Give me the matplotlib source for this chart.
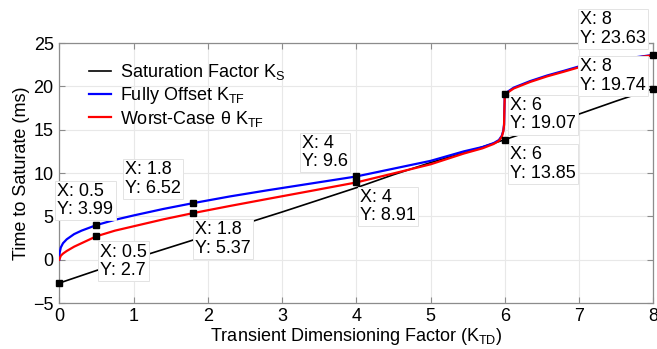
import matplotlib
matplotlib.use('Agg')
import matplotlib.pyplot as plt

plt.rcParams['font.family'] = ['Liberation Sans', 'DejaVu Sans']
plt.rcParams['mathtext.fontset'] = 'custom'
plt.rcParams['mathtext.rm'] = 'Liberation Sans'
plt.rcParams['mathtext.it'] = 'Liberation Sans:italic'

# saturation factor K_S (black)
ks_x = [0, 0.5, 1, 1.5, 2, 2.5, 3, 3.5, 4, 4.5, 5, 5.5, 6, 6.5, 7, 7.5, 8]
ks_y = [-2.7, -1.25, 0.1, 1.45, 2.8, 4.15, 5.5, 6.9, 8.3, 9.8, 11.2, 12.45, 13.85,
        15.3, 16.8, 18.3, 19.74]

# fully offset K_TF (blue)
fo_x = [0, 0.005, 0.02, 0.05, 0.1, 0.2, 0.3, 0.5, 0.75, 1.0, 1.4, 1.8, 2.3, 2.8,
        3.4, 4.0, 4.5, 5.0, 5.45, 5.7, 5.85, 5.92, 5.96, 5.98, 5.99, 5.995, 6.0,
        6.05, 6.12, 6.34, 6.57, 6.8, 7.0, 7.5, 8.0]
fo_y = [0, 0.8, 1.4, 1.9, 2.35, 2.95, 3.35, 3.99, 4.6, 5.1, 5.85, 6.52, 7.3, 8.0,
        8.8, 9.6, 10.5, 11.4, 12.5, 13.0, 13.45, 13.8, 14.3, 14.9, 15.6, 17.5, 19.1,
        19.45, 19.85, 20.6, 21.25, 21.8, 22.3, 23.05, 23.63]

# worst-case theta K_TF (red)
wc_x = [0, 0.02, 0.05, 0.1, 0.2, 0.3, 0.5, 0.75, 1.0, 1.4, 1.8, 2.3, 2.8, 3.4,
        4.0, 4.5, 5.0, 5.45, 5.7, 5.85, 5.92, 5.96, 5.98, 5.99, 5.995, 6.0, 6.05,
        6.12, 6.34, 6.57, 6.8, 7.0, 7.5, 8.0]
wc_y = [0, 0.45, 0.7, 1.0, 1.5, 1.9, 2.7, 3.35, 3.85, 4.65, 5.37, 6.2, 7.0, 7.95,
        8.91, 9.95, 11.0, 12.25, 12.85, 13.35, 13.7, 14.2, 14.8, 15.5, 17.5, 19.07,
        19.35, 19.75, 20.5, 21.15, 21.7, 22.2, 22.95, 23.6]

# data tips: x, y, label offset in pixels (left edge, middle of the two lines)
tip_x = [0.5, 0.5, 1.8, 1.8, 4, 4, 6, 6, 8, 8]
tip_y = [3.99, 2.7, 6.52, 5.37, 9.6, 8.91, 19.07, 13.85, 23.63, 19.74]
tip_lbl = ['0.5', '0.5', '1.8', '1.8', '4', '4', '6', '6', '8', '8']
tip_val = ['3.99', '2.7', '6.52', '5.37', '9.6', '8.91', '19.07', '13.85', '23.63', '19.74']
tip_off = [(-39, 24.6), (3.6, -25), (-68, 24.3), (2, -25.8), (-54.6, 24),
           (3.7, -24), (5.2, -20.3), (5.2, -24.3), (-73.3, 26), (-73.3, 12.7)]

FS = 13

fig = plt.figure(figsize=(6.57, 3.49), dpi=100)
ax = fig.add_axes([59.3 / 657, 46 / 349, 594 / 657, 260 / 349])

ax.plot(ks_x, ks_y, color='black', lw=1.2, label=r'Saturation Factor K$_{\mathrm{S}}$', zorder=3)
ax.plot(fo_x, fo_y, color='#0000ff', lw=1.6, label=r'Fully Offset K$_{\mathrm{TF}}$', zorder=3)
ax.plot(wc_x, wc_y, color='#ff0000', lw=1.6, label=r'Worst-Case θ K$_{\mathrm{TF}}$', zorder=3)

# the extra marker at the start of K_S
ax.plot([ks_x[0]], [ks_y[0]], 's', color='black', ms=5, zorder=6, clip_on=False)

for x, y, l, v, off in zip(tip_x, tip_y, tip_lbl, tip_val, tip_off):
    ax.plot([x], [y], 's', color='black', ms=5, zorder=6, clip_on=False)
    ax.annotate('X: ' + l + '\nY: ' + v, xy=(x, y), xytext=off,
                textcoords='offset pixels', ha='left', va='center',
                fontsize=FS, linespacing=1.1, zorder=5, annotation_clip=False,
                bbox=dict(boxstyle='square,pad=0.12', fc='white', ec='#e3e3e3', lw=0.7))

ax.set_xlim(0, 8)
ax.set_ylim(-5, 25)
ax.set_xticks(range(0, 9))
ax.set_yticks(range(-5, 26, 5))
ax.set_yticklabels(['\u22125', '0', '5', '10', '15', '20', '25'])
ax.grid(True, color='#e8e8e8', lw=0.8)
ax.set_axisbelow(True)
for s in ax.spines.values():
    s.set_color('#8c8c8c')
    s.set_linewidth(0.9)
ax.tick_params(direction='in', length=4, width=0.8, color='#8c8c8c',
               labelsize=FS, top=True, right=True)
ax.tick_params(axis='x', pad=3.5)
ax.tick_params(axis='y', pad=4)

ax.set_xlabel(r'Transient Dimensioning Factor (K$_{\mathrm{TD}}$)', fontsize=FS, labelpad=1)
ax.set_ylabel('Time to Saturate (ms)', fontsize=FS, labelpad=2)

ax.legend(loc='upper left', frameon=False, fontsize=FS, handlelength=1.2,
          handletextpad=0.5, labelspacing=0.15, borderaxespad=0,
          bbox_to_anchor=(0.038, 0.954))

fig.savefig('out.png', dpi=100)
